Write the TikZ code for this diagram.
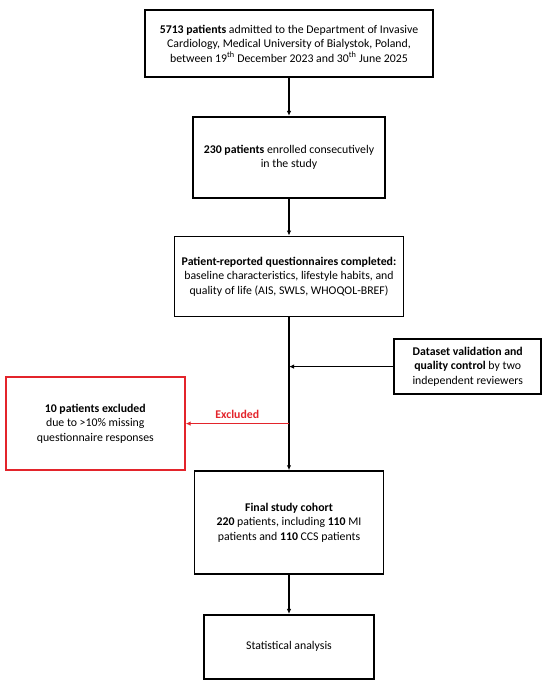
\documentclass[tikz,border=0pt]{standalone}
\usepackage{fontspec}
\setmainfont{Carlito}
\usetikzlibrary{positioning,arrows.meta}
\definecolor{exred}{HTML}{E3242B}

\begin{document}
\begin{tikzpicture}[
    box/.style={draw, line width=1.7pt, inner sep=0pt, align=center, font=\fontsize{11.8}{14.4}\selectfont},
    arr/.style={-{Latex[length=5pt,width=4.5pt]}, line width=1.7pt}
]
\useasboundingbox (0,0) rectangle (550pt,-681pt);

% Main flow down the centre
\node[box, minimum width=288pt, minimum height=67pt] (adm) at (289pt,-43.5pt)
  {\textbf{5713 patients} admitted to the Department of Invasive\\
   Cardiology, Medical University of Bialystok, Poland,\\
   between 19\textsuperscript{th} December 2023 and 30\textsuperscript{th} June 2025};
\node[box, minimum width=192pt, minimum height=81pt, below=38pt of adm] (enr)
  {\textbf{230 patients} enrolled consecutively\\ in the study};
\node[box, minimum width=229pt, minimum height=80pt, below=37pt of enr] (quest)
  {\textbf{Patient-reported questionnaires completed:}\\
   baseline characteristics, lifestyle habits, and\\
   quality of life (AIS, SWLS, WHOQOL-BREF)};
\node[box, minimum width=189pt, minimum height=103pt, below=153pt of quest] (final)
  {\textbf{Final study cohort}\\
   \textbf{220} patients, including \textbf{110} MI\\
   patients and \textbf{110} CCS patients};
\node[box, minimum width=170pt, minimum height=64pt, below=39pt of final] (stat)
  {Statistical analysis};

% Side boxes
\node[box, minimum width=147pt, minimum height=55pt, right=9pt of final, yshift=156pt] (valid)
  {\textbf{Dataset validation and}\\
   \textbf{quality control} by two\\
   independent reviewers};
\node[box, draw=exred, minimum width=179pt, minimum height=93pt, left=8pt of final, yshift=99pt] (excl)
  {\textbf{10 patients excluded}\\
   due to >10\% missing\\
   questionnaire responses};

% Arrows
\draw[arr] (adm) -- (enr);
\draw[arr] (enr) -- (quest);
\draw[arr] (quest) -- (final);
\draw[arr] (final) -- (stat);
\draw[arr] (valid.west) -- (valid.west -| quest.south);
\draw[arr, exred] (excl.east -| quest.south) -- (excl.east)
  node[midway, above=1pt, font=\fontsize{11.8}{14.4}\selectfont\bfseries] {Excluded};
\end{tikzpicture}
\end{document}
